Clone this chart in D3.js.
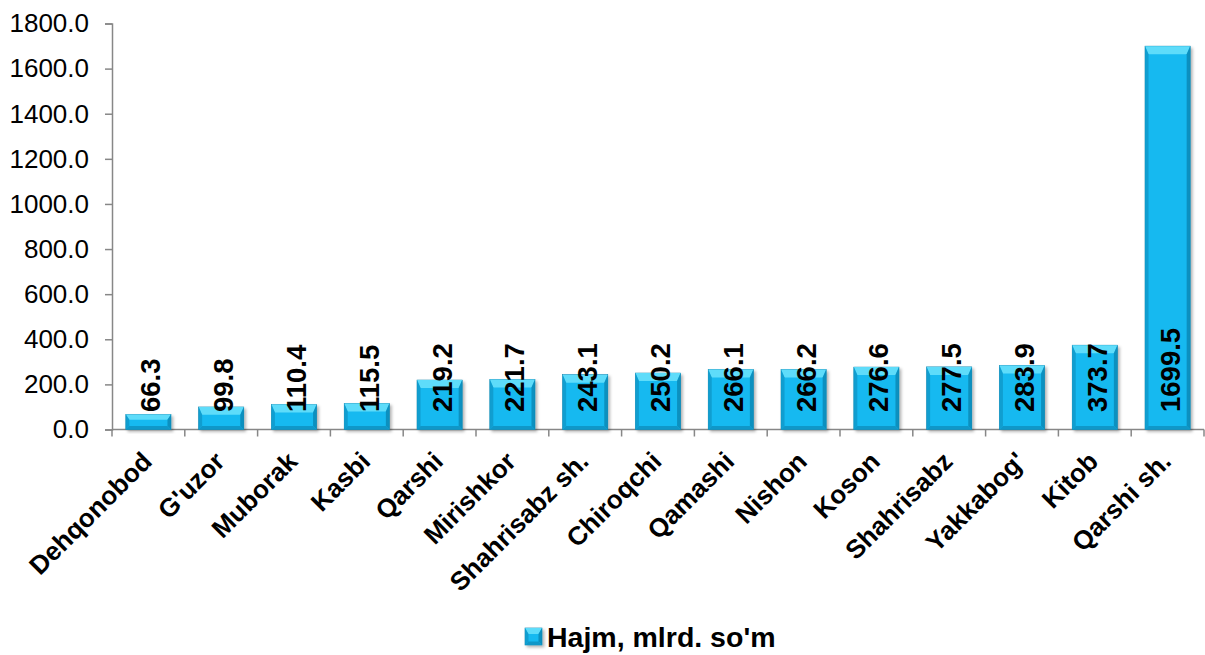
<!DOCTYPE html>
<html>
<head>
<meta charset="utf-8">
<script src="https://cdn.jsdelivr.net/npm/d3@7/dist/d3.min.js"></script>
<style>
  html, body { margin: 0; padding: 0; background: #fff; }
  svg { display: block; font-family: Arial, "Liberation Sans", sans-serif; }
</style>
</head>
<body>
<svg id="chart" width="1205" height="655"></svg>
<script>
const categories = ["Dehqonobod", "G'uzor", "Muborak", "Kasbi", "Qarshi", "Mirishkor",
  "Shahrisabz sh.", "Chiroqchi", "Qamashi", "Nishon", "Koson", "Shahrisabz",
  "Yakkabog'", "Kitob", "Qarshi sh."];
const values = [66.3, 99.8, 110.4, 115.5, 219.2, 221.7, 243.1, 250.2, 266.1, 266.2,
  276.6, 277.5, 283.9, 373.7, 1699.5];
const yTicks = [0, 200, 400, 600, 800, 1000, 1200, 1400, 1600, 1800];
const seriesName = "Hajm, mlrd. so'm";

const svg = d3.select("#chart");
const plotLeft = 112, plotRight = 1204, plotTop = 23.5, plotBottom = 429.5;

const x = d3.scaleBand().domain(categories).range([plotLeft, plotRight])
  .paddingInner(0.38).paddingOuter(0.19);
const y = d3.scaleLinear().domain([0, 1800]).range([plotBottom, plotTop]);

const defs = svg.append("defs");
const f = defs.append("filter").attr("id", "shadow")
  .attr("x", "-20%").attr("y", "-20%").attr("width", "150%").attr("height", "150%");
f.append("feDropShadow").attr("dx", 2).attr("dy", 2).attr("stdDeviation", 1.5)
  .attr("flood-color", "#000").attr("flood-opacity", 0.3);

const axisColor = "#878787";

// Y axis
const yAxis = d3.axisLeft(y).tickValues(yTicks).tickFormat(d3.format(".1f")).tickSize(7).tickPadding(16);
const gy = svg.append("g").attr("transform", `translate(${plotLeft},0)`).call(yAxis);
gy.select(".domain").attr("stroke", axisColor).attr("stroke-width", 1.5);
gy.selectAll(".tick line").attr("stroke", axisColor).attr("stroke-width", 1.5);
gy.selectAll(".tick text").attr("fill", "#000").style("font-size", "26px")
  .style("font-family", "Arial, 'Liberation Sans', sans-serif");

// X axis baseline and boundary ticks
const gx = svg.append("g");
gx.append("line").attr("x1", plotLeft).attr("x2", plotRight).attr("y1", y(0)).attr("y2", y(0))
  .attr("stroke", axisColor).attr("stroke-width", 1.5);
const step = x.step();
const bounds = d3.range(categories.length + 1).map(i => plotLeft + i * step);
gx.selectAll("line.bt").data(bounds).join("line").attr("class", "bt")
  .attr("x1", d => d).attr("x2", d => d).attr("y1", y(0)).attr("y2", y(0) + 7)
  .attr("stroke", axisColor).attr("stroke-width", 1.5);

// Bars with bevel
const base = "#17b9f0", light = "#5edcfa", dark = "#0f97c8", darker = "#0b88b6";
function bevelBar(g, x0, y0, w, h) {
  const bt = Math.min(8, h * 0.35), bs = 3.5, bb = 3.5;
  g.append("rect").attr("x", x0).attr("y", y0).attr("width", w).attr("height", h)
    .attr("fill", base).attr("stroke", "#0a7fa8").attr("stroke-width", 0.6)
    .attr("filter", "url(#shadow)");
  g.append("polygon").attr("points",
    [[x0, y0], [x0 + w, y0], [x0 + w - bs, y0 + bt], [x0 + bs, y0 + bt]].join(" "))
    .attr("fill", light);
  g.append("polygon").attr("points",
    [[x0, y0], [x0 + bs, y0 + bt], [x0 + bs, y0 + h - bb], [x0, y0 + h]].join(" "))
    .attr("fill", dark).attr("opacity", 0.8);
  g.append("polygon").attr("points",
    [[x0 + w, y0], [x0 + w - bs, y0 + bt], [x0 + w - bs, y0 + h - bb], [x0 + w, y0 + h]].join(" "))
    .attr("fill", darker).attr("opacity", 0.85);
  g.append("polygon").attr("points",
    [[x0, y0 + h], [x0 + bs, y0 + h - bb], [x0 + w - bs, y0 + h - bb], [x0 + w, y0 + h]].join(" "))
    .attr("fill", dark);
}
const barsG = svg.append("g");
categories.forEach((c, i) => {
  const g = barsG.append("g");
  bevelBar(g, x(c), y(values[i]), x.bandwidth(), y(0) - y(values[i]));
});

// Data labels
svg.append("g").selectAll("text").data(categories).join("text")
  .attr("transform", (d) => `translate(${x(d) + x.bandwidth() / 2 + 2},412) rotate(-90)`)
  .attr("dy", "0.36em")
  .attr("text-anchor", "start")
  .style("font-size", "27.5px").style("font-weight", "bold").attr("fill", "#000")
  .text((d, i) => values[i].toFixed(1));

// Category labels
svg.append("g").selectAll("text").data(categories).join("text")
  .attr("transform", d => `translate(${x(d) + x.bandwidth() / 2 + 5},463) rotate(-45)`)
  .attr("text-anchor", "end")
  .style("font-size", "26px").style("font-weight", "bold").attr("fill", "#000")
  .text(d => d);

// Legend
const lg = svg.append("g");
bevelBar(lg, 525, 628, 17, 17);
lg.append("text").attr("x", 547).attr("y", 647)
  .style("font-size", "28.5px").style("font-weight", "bold").attr("fill", "#000")
  .text(seriesName);
</script>
</body>
</html>
